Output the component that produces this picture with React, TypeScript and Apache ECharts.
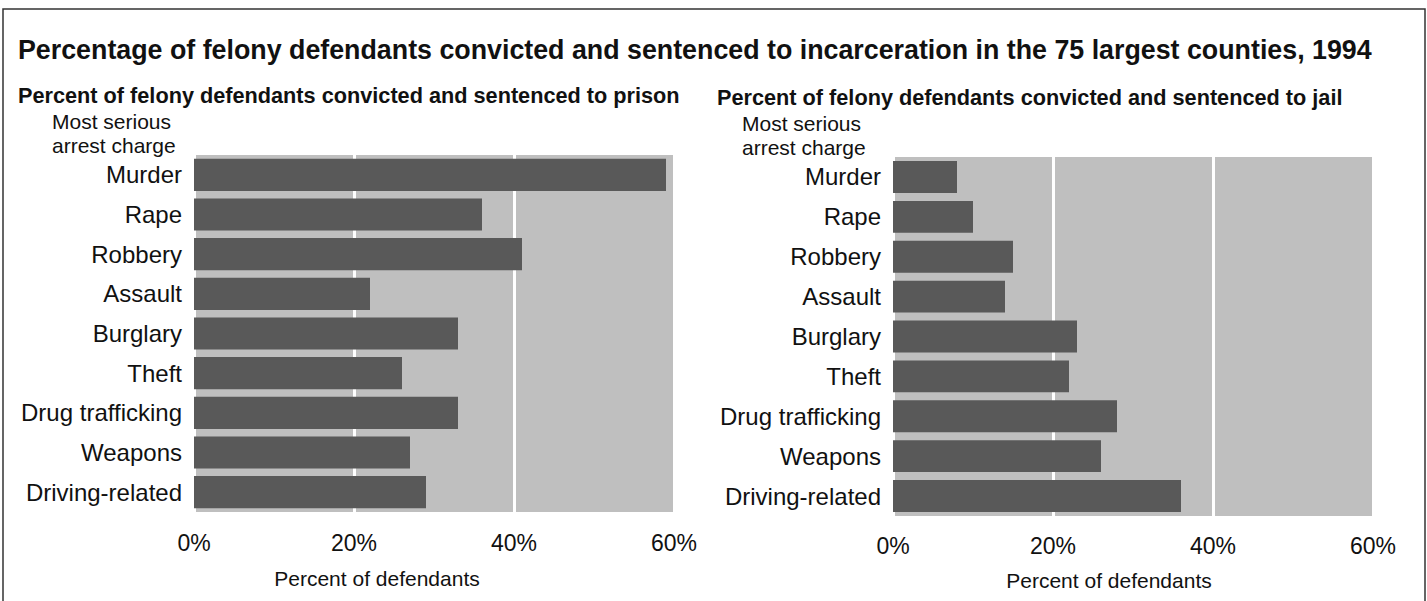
import React, { useEffect, useRef } from "react";
import * as echarts from "echarts";

const categories = [
  "Murder",
  "Rape",
  "Robbery",
  "Assault",
  "Burglary",
  "Theft",
  "Drug trafficking",
  "Weapons",
  "Driving-related",
];
const prisonValues = [59, 36, 41, 22, 33, 26, 33, 27, 29];
const jailValues = [8, 10, 15, 14, 23, 22, 28, 26, 36];
const tickValues = [0, 20, 40, 60];

const FONT = "Liberation Sans, Arial, Helvetica, sans-serif";
const BAR = "#595959";
const BG = "#bfbfbf";

export default function App() {
  const ref = useRef<HTMLDivElement>(null);
  useEffect(() => {
    if (!ref.current) return;
    const chart = echarts.init(ref.current, null, { renderer: "svg" });
    const grids = [
      { left: 194, top: 155, width: 480, height: 357 },
      { left: 893, top: 157, width: 480, height: 359 },
    ];
    const xAxis = grids.map((_, i) => ({
      type: "value",
      gridIndex: i,
      min: tickValues[0],
      max: tickValues[tickValues.length - 1],
      interval: 20,
      axisLine: { show: false },
      axisTick: { show: false },
      axisLabel: {
        formatter: "{value}%",
        fontFamily: FONT,
        fontSize: 23,
        color: "#111",
        margin: i === 0 ? 19 : 18,
      },
      splitLine: { show: true, lineStyle: { color: "#ffffff", width: 3 } },
    }));
    const yAxis = grids.map((_, i) => ({
      type: "category",
      gridIndex: i,
      inverse: true,
      data: categories,
      axisLine: { show: false },
      axisTick: { show: false },
      axisLabel: {
        fontFamily: FONT,
        fontSize: 24,
        color: "#111",
        margin: 12,
      },
    }));
    const mkText = (x: number, y: number, text: string, size: number, bold: boolean, align = "left") => ({
      type: "text",
      x,
      y,
      style: {
        text,
        fontFamily: FONT,
        fontSize: size,
        fontWeight: bold ? "bold" : "normal",
        fill: "#111",
        textAlign: align,
        textVerticalAlign: "middle",
        lineHeight: 24,
      },
    });
    chart.setOption({
      animation: false,
      backgroundColor: "#ffffff",
      grid: grids.map((g) => ({
        ...g,
        show: true,
        backgroundColor: BG,
        borderWidth: 0,
        containLabel: false,
      })),
      xAxis,
      yAxis,
      series: [
        {
          type: "bar",
          xAxisIndex: 0,
          yAxisIndex: 0,
          data: prisonValues,
          barCategoryGap: "19%",
          itemStyle: { color: BAR },
        },
        {
          type: "bar",
          xAxisIndex: 1,
          yAxisIndex: 1,
          data: jailValues,
          barCategoryGap: "20%",
          itemStyle: { color: BAR },
        },
      ],
      graphic: [
        {
          type: "rect",
          shape: { x: 3, y: 9, width: 1422, height: 600 },
          style: { fill: "none", stroke: "#333", lineWidth: 1.5 },
        },
        mkText(18, 50, "Percentage of felony defendants convicted and sentenced to incarceration in the 75 largest counties, 1994", 26.8, true),
        mkText(18, 95, "Percent of felony defendants convicted and sentenced to prison", 21.7, true),
        mkText(717, 97, "Percent of felony defendants convicted and sentenced to jail", 21.7, true),
        mkText(52, 133, "Most serious\narrest charge", 21, false),
        mkText(742, 135, "Most serious\narrest charge", 21, false),
        mkText(377, 578, "Percent of defendants", 21, false, "center"),
        mkText(1109, 580, "Percent of defendants", 21, false, "center"),
      ],
    });
    return () => chart.dispose();
  }, []);
  return (
    <div
      ref={ref}
      style={{ position: "absolute", left: 0, top: 0, width: 1427, height: 601 }}
    />
  );
}
